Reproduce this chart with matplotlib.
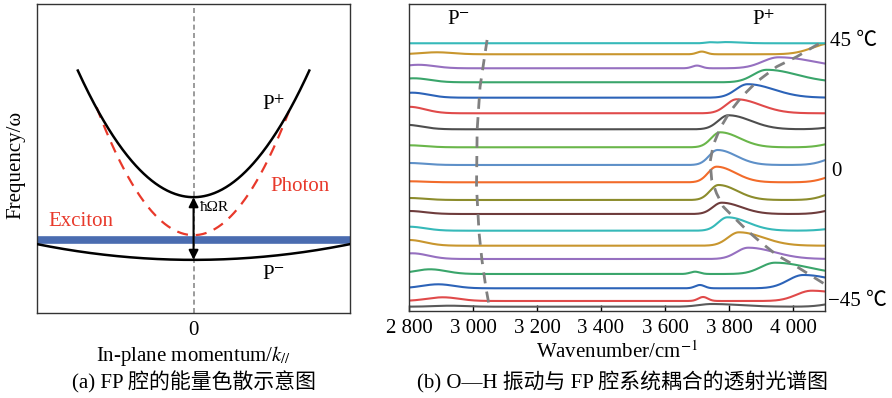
import numpy as np
import matplotlib.pyplot as plt

plt.rcParams['font.family'] = ['Liberation Serif', 'Noto Sans CJK SC', 'DejaVu Sans']
plt.rcParams['mathtext.fontset'] = 'stix'

# ---- panel (a): schematic dispersion ----
k_upper = 0.74          # extent of upper polariton branch
upper_min, upper_curv = 3.75, 7.5
lower_min, lower_curv = 1.72, 0.51
photon_min, photon_curv, k_photon = 2.52, 10.8, 0.62
exciton_level = 2.36

# ---- panel (b): transmission spectra, bottom (-45 C) to top (45 C) ----
baseline = [4.3, 10, 22.7, 37, 52, 65.3, 80.3, 97, 111, 128.7, 146, 163.7,
            181.7, 197.7, 213.3, 228.7, 242.7, 256.7, 267.7]
peak_pos = [3746, 4058, 4032, 3944, 3860, 3831, 3795, 3777, 3767, 3761, 3764,
            3772, 3798, 3824, 3858, 3918, 3955, 4120, 3790]
peak_h = [2.7, 10.3, 13.3, 11.3, 11.3, 13.4, 13.4, 11.3, 15, 15.6, 15, 15, 14,
          14, 13.5, 12.5, 11, 11, 1.2]
peak_w = [150, 180, 180, 170, 140, 130, 110, 105, 100, 100, 100, 105, 120, 125,
          140, 160, 190, 220, 80]
small_pos = [3720, 3719, 3709, 3694, 3700, 3700, 3700, 3700, 3700, 3700, 3700,
             3700, 3700, 3700, 3700, 3700, 3700, 3715, 3740]
small_h = [0, 4, 3.3, 2.3, 0, 0, 0, 0, 0, 0, 0, 0, 0, 0, 0, 0, 2.7, 2.7, 1.0]
left_pos = [2928, 2906, 2891, 2866, 2810, 2800, 2800, 2800, 2800, 2800, 2800,
            2800, 2790, 2800, 2810, 2815, 2830, 2887, 2900]
left_h = [1, 3.7, 4, 4.7, 5.7, 5.7, 4, 3, 2, 1, 2, 2, 4.5, 6.5, 5, 4, 3.5, 2, 0]
tail_h = [4.5, 0, 0, 0, 0, 0, 3, 6, 10, 9, 10, 6, 3, 0, 0, 0, 0, 0, 0]
colors = ['#5a5a5a', '#e04a4a', '#2c63b8', '#3aa56b', '#9670c0', '#c8962e',
          '#36b9b9', '#6e3c3c', '#8c8c2c', '#f26b2a', '#5e90c8', '#6ab64a',
          '#4e4e4e', '#e04a4a', '#2c63b8', '#3aa56b', '#9670c0', '#c8962e',
          '#36b9b9']

# guide lines for P- and P+ (wavenumber, offset)
pm_x = [3044, 3022, 3013, 3011, 3019, 3028, 3040, 3053]
pm_y = [271, 224, 181, 124, 78, 51, 24, 1]
pp_x = [4095, 4012, 3949, 3897, 3855, 3813, 3782, 3761, 3746, 3741, 3751,
        3772, 3803, 3840, 3887, 3949, 4012, 4074, 4100]
pp_y = [27.7, 44.3, 56, 69.3, 81, 94.3, 104.3, 117.7, 131, 149.3, 166,
        182.7, 199.3, 214.3, 229.3, 244.3, 254.3, 266, 270]

xticks = [2800, 3000, 3200, 3400, 3600, 3800, 4000]
xticklabels = ['2 800', '3 000', '3 200', '3 400', '3 600', '3 800', '4 000']

fig = plt.figure(figsize=(8.92, 3.98), dpi=100)
ax1 = fig.add_axes([0.0415, 0.2136, 0.351, 0.776])
ax2 = fig.add_axes([0.4585, 0.2186, 0.4664, 0.7714])

# ---------- (a) ----------
k = np.linspace(-1, 1, 400)
ku = k[np.abs(k) <= k_upper]
kp = k[np.abs(k) <= k_photon]
ax1.axvline(0, color='#8a8a8a', ls=(0, (3, 2)), lw=1.2, zorder=1)
ax1.axhline(exciton_level, color='#4a6cb0', lw=5.5, zorder=2)
ax1.plot(kp, photon_min + photon_curv * kp**2, color='#e8392b', ls=(0, (5, 3.5)), lw=1.6, zorder=3)
ax1.plot(ku, upper_min + upper_curv * ku**2, color='k', lw=1.8, zorder=4)
ax1.plot(k, lower_min + lower_curv * k**2, color='k', lw=1.8, zorder=4)
ax1.annotate('', xy=(0, upper_min), xytext=(0, lower_min),
             arrowprops=dict(arrowstyle='<|-|>', color='k', lw=1.5,
                             mutation_scale=14, shrinkA=0, shrinkB=0), zorder=5)
ax1.text(0.44, 6.73, 'P$^{+}$', fontsize=15, va='center')
ax1.text(0.44, 1.23, 'P$^{-}$', fontsize=15, va='center')
ax1.text(-0.93, 2.95, 'Exciton', fontsize=15, color='#e8392b', va='center')
ax1.text(0.49, 4.08, 'Photon', fontsize=15, color='#e8392b', va='center')
ax1.text(0.04, 3.4, 'ħΩR', fontsize=11, va='center')
ax1.set_xlim(-1, 1)
ax1.set_ylim(0, 10)
ax1.set_xticks([0])
ax1.set_xticklabels(['0'], fontsize=15)
ax1.set_yticks([])
ax1.tick_params(axis='x', length=0, pad=6)
ax1.set_xlabel('In-plane momentum/$k_{//}$', fontsize=15, labelpad=3)
for s in ax1.spines.values():
    s.set_linewidth(1.0)
    s.set_color('#333333')
fig.text(0.018, 0.585, 'Frequency/ω', fontsize=15, rotation=90, ha='center', va='center')

# ---------- (b) ----------
wn = np.arange(2800, 4101, 2.0)
for i in range(len(baseline)):
    w = peak_w[i] / 2.355
    sig = np.where(wn < peak_pos[i], 0.62 * w, 1.38 * w)
    y = baseline[i] + peak_h[i] * np.exp(-(wn - peak_pos[i])**2 / (2 * sig**2))
    y += small_h[i] * np.exp(-(wn - small_pos[i])**2 / (2 * 15.0**2))
    y += left_h[i] * np.exp(-(wn - left_pos[i])**2 / (2 * 50.0**2))
    y += tail_h[i] * np.exp(-(wn - 4160)**2 / (2 * 50.0**2))
    ax2.plot(wn, y, color=colors[i], lw=1.5)
ax2.plot(pm_x, pm_y, color='#808080', ls=(0, (4, 3)), lw=2.0, zorder=5)
ax2.plot(pp_x, pp_y, color='#808080', ls=(0, (4, 3)), lw=2.0, zorder=5)
ax2.text(2919, 291, 'P$^{-}$', fontsize=15, va='center')
ax2.text(3872, 291, 'P$^{+}$', fontsize=15, va='center')
tr = ax2.get_yaxis_transform()
ax2.text(1.012, 269, '45 ℃', transform=tr, fontsize=15, va='center')
ax2.text(1.015, 139, '0', transform=tr, fontsize=15, va='center')
ax2.text(1.008, 9, '−45 ℃', transform=tr, fontsize=15, va='center')
ax2.set_xlim(2800, 4100)
ax2.set_ylim(0, 307)
ax2.set_xticks(xticks)
ax2.set_xticklabels(xticklabels, fontsize=15)
ax2.set_yticks([])
ax2.tick_params(axis='x', direction='in', length=4, width=1.0, pad=6)
ax2.set_xlabel('Wavenumber/cm$^{-1}$', fontsize=15, labelpad=2)
for s in ax2.spines.values():
    s.set_linewidth(1.0)
    s.set_color('#333333')

fig.text(0.217, 0.04, '(a) FP 腔的能量色散示意图', fontsize=15, ha='center', va='center')
fig.text(0.698, 0.04, '(b) O—H 振动与 FP 腔系统耦合的透射光谱图', fontsize=15, ha='center', va='center')

fig.savefig('out.png', dpi=100)
